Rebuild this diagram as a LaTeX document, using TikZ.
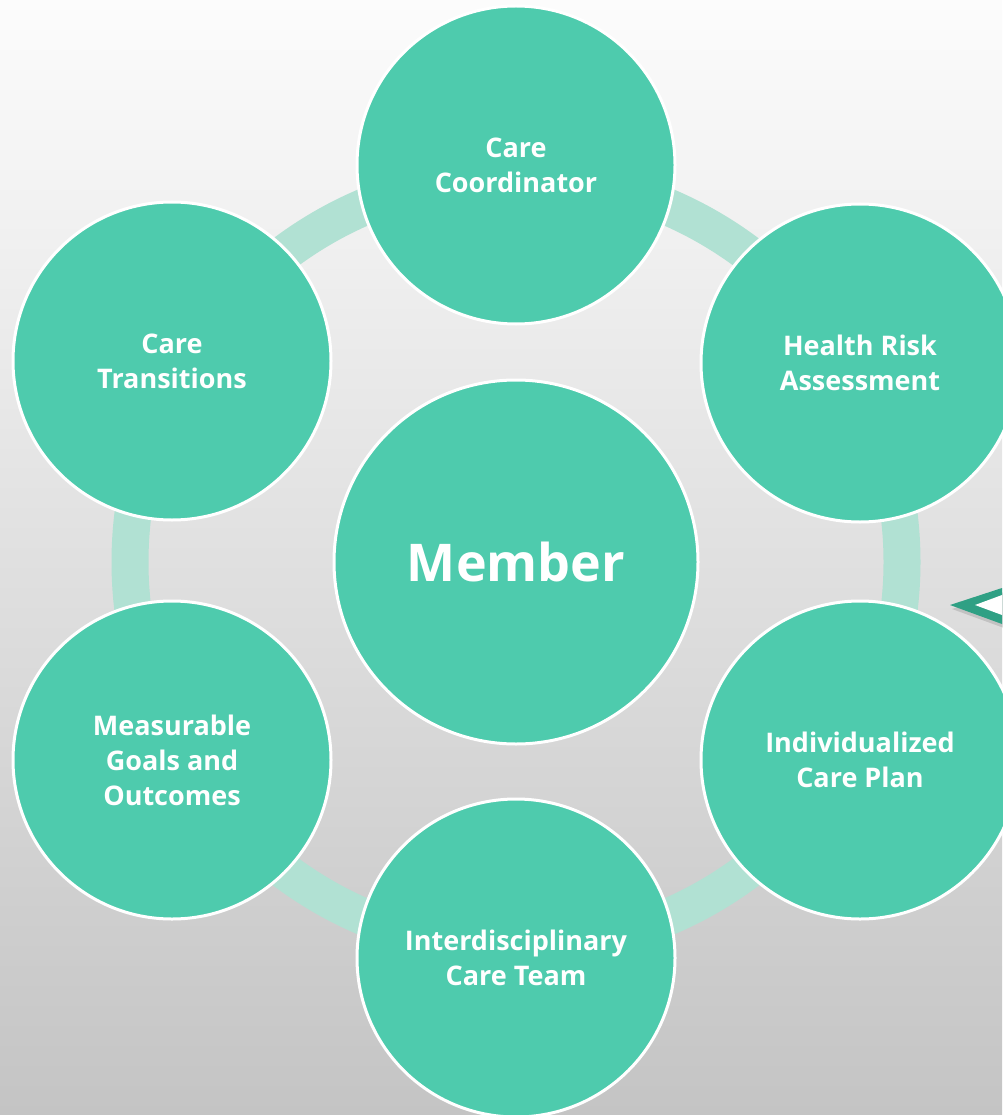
\documentclass[tikz,border=0pt]{standalone}
\usepackage{fontspec}
\setmainfont{Open Sans}
\definecolor{mint}{HTML}{4ECBAD}
\definecolor{ringc}{HTML}{B1E1D3}
\definecolor{arrowc}{HTML}{2FA084}
\definecolor{bgtop}{HTML}{FCFCFC}
\definecolor{bgmid}{HTML}{EAEAEA}
\definecolor{bgbot}{HTML}{C4C4C4}
\tikzset{
  bubble/.style={circle, fill=mint, draw=white, line width=3pt, inner sep=0pt,
    minimum size=318pt, align=center, text=white,
    font=\fontsize{27}{35}\selectfont\bfseries},
  hub/.style={bubble, minimum size=364pt, font=\fontsize{52}{60}\selectfont\bfseries},
  ringstyle/.style={draw=ringc, line width=37pt},
}
\begin{document}
\begin{tikzpicture}[x=1pt,y=-1pt]
\useasboundingbox (0,0) rectangle (1002,1115);
\shade[top color=bgtop, middle color=bgmid, bottom color=bgbot] (0,0) rectangle (1002,1115);
\coordinate (c) at (516,562);
\draw[ringstyle] (c) circle (386);
\node[hub] (member) at (c) {Member};
\node[bubble] (cc) at (516,165) {Care\\Coordinator};
\node[bubble] (hra) at (860,363) {Health Risk\\Assessment};
\node[bubble] (icp) at (860,760) {Individualized\\Care Plan};
\node[bubble] (ict) at (516,958) {Interdisciplinary\\Care Team};
\node[bubble] (mgo) at (172,760) {Measurable\\Goals and\\Outcomes};
\node[bubble] (ct) at (172,361) {Care\\Transitions};
% chevron arrow
\coordinate (t1) at (950,605);
\coordinate (t2) at (1002,588);
\coordinate (t3) at (1002,624);
\coordinate (u1) at (975,605);
\coordinate (u2) at (1002,595);
\coordinate (u3) at (1002,615);
\fill[black, opacity=0.12] ([shift={(2,4)}]t1) -- ([shift={(2,4)}]t2) -- ([shift={(2,4)}]t3) -- cycle;
\fill[arrowc] (t1) -- (t2) -- (t3) -- cycle;
\fill[white] (u1) -- (u2) -- (u3) -- cycle;
\end{tikzpicture}
\end{document}
